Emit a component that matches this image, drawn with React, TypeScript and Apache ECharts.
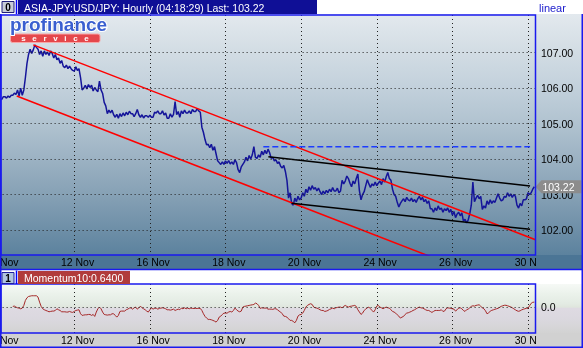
import React, { useEffect, useRef } from 'react';
import * as echarts from 'echarts';

// ---------- data ----------
const dateLabels = ['10 Nov', '12 Nov', '16 Nov', '18 Nov', '20 Nov', '24 Nov', '26 Nov', '30 Nov'];
const hoursPerLabel = 48;
const xMaxHour = 340.75;
const priceTicks = [102, 103, 104, 105, 106, 107];
const priceMin = 101.295;
const priceMax = 108.063;
const lastPrice = 103.22;
const momentumLast = 0.64;
const momentumStartHour = 9;

// hourly closes, hour 0 .. 340
const prices = [
  105.70, 105.70, 105.68, 105.76, 105.76, 105.72, 105.78, 105.74, 105.80, 105.80,
  105.86, 105.82, 105.95, 105.78, 106.00, 105.80, 105.95, 106.30, 106.70, 106.95,
  107.10, 106.98, 107.08, 107.22, 107.15, 107.10, 106.95, 107.05, 106.90, 107.05,
  106.95, 107.02, 106.92, 107.05, 106.98, 106.85, 106.95, 106.80, 106.85, 106.70,
  106.78, 106.62, 106.58, 106.65, 106.55, 106.62, 106.55, 106.50, 106.48, 106.60,
  106.50, 106.55, 106.30, 105.95, 106.00, 106.08, 105.98, 106.10, 106.02, 106.08,
  105.92, 106.02, 105.95, 105.90, 106.20, 105.95, 105.85, 105.60, 105.50, 105.28,
  105.38, 105.30, 105.38, 105.25, 105.18, 105.26, 105.15, 105.28, 105.20, 105.30,
  105.22, 105.32, 105.25, 105.35, 105.28, 105.28, 105.20, 105.28, 105.40, 105.25,
  105.18, 105.25, 105.16, 105.22, 105.22, 105.18, 105.24, 105.18, 105.18, 105.32,
  105.30, 105.36, 105.28, 105.28, 105.36, 105.24, 105.30, 105.15, 105.15, 105.28,
  105.18, 105.26, 105.62, 105.25, 105.34, 105.18, 105.36, 105.28, 105.38, 105.30,
  105.30, 105.36, 105.28, 105.40, 105.34, 105.34, 105.42, 105.36, 105.32, 104.90,
  104.75, 104.55, 104.40, 104.42, 104.32, 104.42, 104.25, 104.35, 104.15, 103.95,
  103.90, 103.85, 103.92, 103.85, 103.95, 103.88, 103.96, 103.86, 103.92, 103.85,
  103.98, 103.90, 103.70, 103.62, 103.78, 103.85, 103.92, 104.05, 103.95, 104.10,
  104.00, 104.12, 104.35, 104.05, 104.02, 104.12, 104.05, 104.22, 104.12, 104.25,
  104.15, 104.28, 104.18, 104.02, 104.05, 103.95, 103.98, 103.88, 103.92, 103.80,
  103.75, 103.82, 103.65, 103.40, 102.90, 103.05, 102.75, 102.70, 102.90, 102.80,
  102.95, 102.85, 102.90, 103.05, 102.95, 103.15, 103.05, 103.22, 103.12, 103.25,
  103.15, 103.20, 103.10, 103.18, 103.08, 103.00, 103.10, 103.02, 103.12, 103.05,
  103.15, 103.08, 103.20, 103.10, 103.10, 103.18, 103.05, 103.10, 103.40, 103.30,
  103.38, 103.52, 103.45, 103.32, 103.22, 103.38, 103.30, 103.45, 103.58, 103.10,
  102.85, 103.00, 103.08, 103.25, 103.42, 103.30, 103.20, 103.30, 103.25, 103.35,
  103.25, 103.32, 103.38, 103.28, 103.45, 103.35, 103.50, 103.62, 103.45, 103.40,
  103.15, 103.00, 102.95, 102.78, 102.65, 102.75, 102.82, 102.88, 102.80, 102.92,
  102.85, 102.82, 102.90, 102.80, 102.86, 102.78, 102.88, 102.95, 102.85, 102.92,
  102.80, 102.86, 102.75, 102.82, 102.60, 102.60, 102.50, 102.62, 102.55, 102.68,
  102.58, 102.62, 102.50, 102.60, 102.55, 102.62, 102.50, 102.58, 102.42, 102.52,
  102.35, 102.45, 102.50, 102.40, 102.48, 102.25, 102.30, 102.20, 102.28, 102.45,
  102.70, 103.35, 102.80, 102.90, 102.98, 102.88, 102.95, 102.58, 102.68, 102.62,
  102.82, 102.72, 102.85, 102.75, 102.82, 102.78, 102.90, 103.02, 102.90, 102.82,
  102.85, 102.95, 102.92, 103.05, 102.95, 103.02, 102.92, 103.00, 102.95, 102.70,
  102.62, 102.75, 102.68, 102.85, 102.85, 102.88, 103.05, 103.00, 103.05, 103.15, 103.22,
];

// Momentum(10), hour 9 .. 340
const momentum = [
  0.10, 0.14, 0.00, -0.10, -0.14, -0.24, -0.14, 0.24, 0.95, 1.33,
  1.52, 1.57, 1.62, 1.62, 1.62, 1.62, 1.43, 0.71, 0.10, -0.24,
  -0.38, -0.48, -0.57, -0.67, -0.62, -0.57, -0.57, -0.48, -0.24, -0.38,
  -0.48, -0.67, -0.67, -0.67, -0.71, -0.71, -0.62, -0.71, -0.76, -0.62,
  -0.48, -0.43, -0.38, -0.95, -1.19, -1.14, -1.10, -1.10, -1.05, -1.05,
  -1.19, -1.05, -1.33, -0.71, -0.24, 0.00, -0.24, -0.71, -1.05, -1.10,
  -1.14, -1.10, -1.10, -0.95, -0.95, -1.19, -1.43, -1.19, -0.62, -0.57,
  -0.57, -0.57, -0.38, -0.29, -0.14, -0.10, -0.29, -0.10, 0.00, -0.29,
  -0.10, 0.14, -0.10, -0.24, -0.38, -0.57, -0.71, -0.38, -0.10, -0.29,
  -0.19, -0.14, -0.29, -0.19, -0.14, -0.10, -0.14, -0.24, -0.38, -0.38,
  -0.43, -0.38, -0.29, -0.48, -0.38, -0.29, -0.38, -0.14, -0.24, -0.10,
  -0.24, -0.14, -0.24, -0.14, -0.19, -0.19, -0.19, -0.19, -0.19, -0.19,
  -0.48, -0.95, -1.33, -1.57, -1.76, -1.76, -1.81, -1.90, -2.00, -2.14,
  -1.90, -1.43, -1.29, -1.05, -0.86, -0.86, -0.86, -0.71, -0.62, -0.71,
  -0.48, -0.14, -0.38, -0.57, -0.67, -0.57, 0.00, 0.10, 0.14, 0.19,
  0.24, 0.29, 0.33, 0.38, 0.57, 0.48, 0.24, -0.19, -0.10, -0.14,
  -0.14, -0.14, -0.29, -0.29, -0.29, -0.33, -0.24, -0.24, -0.38, -0.57,
  -0.71, -0.95, -1.29, -1.33, -1.43, -1.67, -1.90, -1.90, -2.05, -2.24,
  -1.90, -1.29, -1.10, -1.05, -0.86, -0.48, 0.00, 0.24, 0.38, 0.48,
  0.38, 0.00, -0.10, -0.14, -0.24, -0.38, -0.48, -0.48, -0.62, -0.57,
  -0.48, -0.33, -0.24, -0.14, -0.24, -0.10, -0.05, 0.00, 0.00, -0.10,
  0.10, 0.24, 0.10, 0.00, 0.10, 0.14, 0.19, 0.24, 0.10, -0.38,
  -0.71, -1.05, -0.86, -0.48, -0.29, -0.10, 0.00, -0.24, -0.48, -0.71,
  -0.38, 0.14, 0.24, 0.00, -0.10, -0.24, -0.10, 0.00, -0.10, -0.14,
  -0.38, -0.62, -0.71, -0.86, -1.10, -1.29, -1.57, -1.43, -1.33, -1.05,
  -0.86, -0.81, -0.71, -0.62, -0.48, -0.38, -0.24, -0.10, 0.00, -0.10,
  -0.14, -0.24, -0.38, -0.48, -0.48, -0.62, -0.76, -0.62, -0.48, -0.48,
  -0.48, -0.48, -0.38, -0.62, -0.57, -0.24, -0.10, -0.14, -0.19, -0.24,
  -0.29, -0.57, -0.38, -0.14, -0.10, -0.24, -0.48, -0.62, -0.38, -0.29,
  -0.10, 0.10, 0.19, 0.14, 0.24, 0.29, 0.33, 0.11, -0.10, -0.24,
  -0.53, -0.96, -0.81, -0.60, -0.46, -0.39, -0.31, -0.24, -0.17, -0.03,
  0.11, 0.19, 0.26, 0.26, 0.19, 0.11, 0.04, -0.10, -0.24, -0.39,
  -0.53, -0.60, -0.53, -0.39, -0.31, -0.24, -0.17, -0.17, 0.19, 0.54,
  0.69, 0.71,
];

// trend channels: [hour, price]
const upperRed = [[22, 107.22], [340.75, 101.725]];
const lowerRed = [[11.5, 105.78], [340.75, 100.1]];
const upperBlack = [[171.2, 104.067], [337.3, 103.24]];
const lowerBlack = [[186, 102.753], [337.3, 102.02]];
const resistance = [[168, 104.35], [337.3, 104.35]];

// ---------- styles ----------
const FONT = '"Liberation Sans", Arial, sans-serif';
const BLUE = '#1a1aee';
const mainBand = '#4b7595';
const momBand = '#d1d1d1';

const fmtDate = (v: number) => {
  const k = Math.round(v / hoursPerLabel);
  return Math.abs(v - k * hoursPerLabel) < 1e-6 && k < dateLabels.length ? dateLabels[k] : '';
};
const fmtPrice = (v: number) => (priceTicks.some((t) => Math.abs(t - v) < 1e-6) ? v.toFixed(2) : '');

function buildOption() {
  const mainGrad = new echarts.graphic.LinearGradient(0, 0, 0, 1, [
    { offset: 0, color: '#e3e9ee' },
    { offset: 0.15, color: '#d3dde4' },
    { offset: 0.3, color: '#c3d1dc' },
    { offset: 0.45, color: '#b1c3d0' },
    { offset: 0.6, color: '#9cb2c3' },
    { offset: 0.75, color: '#86a1b5' },
    { offset: 0.9, color: '#6d8ea7' },
    { offset: 1, color: '#5c829e' },
  ]);
  const momGrad = new echarts.graphic.LinearGradient(0, 0, 0, 1, [
    { offset: 0, color: '#f6f9f6' },
    { offset: 0.2, color: '#ebf2eb' },
    { offset: 0.4, color: '#e3ebe3' },
    { offset: 0.47, color: '#dfe6dd' },
    { offset: 0.5, color: '#dedae2' },
    { offset: 0.7, color: '#dbd8df' },
    { offset: 0.85, color: '#d7d6d9' },
    { offset: 1, color: '#d2d2d2' },
  ]);

  const xAxisBase = (gridIndex: number) => ({
    type: 'value',
    gridIndex,
    min: 0,
    max: xMaxHour,
    interval: hoursPerLabel,
    axisLine: { show: false },
    axisTick: { show: false },
    splitLine: { show: true, lineStyle: { color: '#222', type: [1, 3], width: 1 } },
    axisLabel: {
      color: '#000',
      fontSize: 10.5,
      fontFamily: FONT,
      margin: 1,
      padding: [0, 0, 0, 6.6],
      formatter: fmtDate,
    },
  });

  const lineSeries = (data: number[][], color: string, extra: any = {}) => ({
    type: 'line',
    xAxisIndex: 0,
    yAxisIndex: 0,
    data,
    showSymbol: false,
    symbol: 'none',
    silent: true,
    z: 4,
    lineStyle: { color, width: 1.5, ...(extra.lineStyle || {}) },
    emphasis: { disabled: true },
  });

  const graphics: any[] = [
    // backgrounds
    { type: 'rect', z: -10, silent: true, shape: { x: 0, y: 14, width: 583, height: 241 }, style: { fill: mainGrad } },
    { type: 'rect', z: -10, silent: true, shape: { x: 0, y: 255, width: 583, height: 15 }, style: { fill: mainBand } },
    { type: 'rect', z: -10, silent: true, shape: { x: 0, y: 284, width: 583, height: 49 }, style: { fill: momGrad } },
    { type: 'rect', z: -10, silent: true, shape: { x: 0, y: 333, width: 583, height: 15 }, style: { fill: momBand } },
    // covers clipping the last date label at the plot edge
    { type: 'rect', z: 100, silent: true, shape: { x: 536.3, y: 256, width: 45.5, height: 13 }, style: { fill: mainBand } },
    { type: 'rect', z: 100, silent: true, shape: { x: 536.3, y: 334, width: 45.5, height: 12.5 }, style: { fill: momBand } },
    // plot borders
    { type: 'rect', z: 100, silent: true, shape: { x: 1, y: 15, width: 534.5, height: 240 }, style: { fill: 'none', stroke: BLUE, lineWidth: 1.5 } },
    { type: 'rect', z: 100, silent: true, shape: { x: 1, y: 284, width: 534.5, height: 49 }, style: { fill: 'none', stroke: BLUE, lineWidth: 1.5 } },
    // outer frames
    { type: 'polyline', z: 100, silent: true, shape: { points: [[0.75, 14], [0.75, 269.5], [582.25, 269.5], [582.25, 14]] }, style: { fill: 'none', stroke: BLUE, lineWidth: 1.5 } },
    { type: 'polyline', z: 100, silent: true, shape: { points: [[0.75, 270], [0.75, 347.25], [582.25, 347.25], [582.25, 270]] }, style: { fill: 'none', stroke: BLUE, lineWidth: 1.5 } },
    // title bar
    { type: 'rect', z: 100, silent: true, shape: { x: 2, y: 1.5, width: 12, height: 11 }, style: { fill: '#c8cdd8', stroke: '#20207a', lineWidth: 1 } },
    { type: 'text', z: 101, silent: true, x: 8, y: 7.5, style: { text: '0', fill: '#000', fontSize: 10, fontWeight: 'bold', fontFamily: FONT, align: 'center', verticalAlign: 'middle' } },
    { type: 'line', z: 100, silent: true, shape: { x1: 16.5, y1: 0, x2: 16.5, y2: 14 }, style: { stroke: '#0000ff', lineWidth: 1.5 } },
    { type: 'rect', z: 100, silent: true, shape: { x: 18, y: 0, width: 299, height: 14 }, style: { fill: '#0f0f96' } },
    { type: 'text', z: 101, silent: true, x: 24, y: 7.5, style: { text: `ASIA-JPY:USD/JPY: Hourly (04:18:29) Last: ${lastPrice.toFixed(2)}`, fill: '#fff', fontSize: 10.5, fontFamily: FONT, verticalAlign: 'middle' } },
    { type: 'text', z: 101, silent: true, x: 539, y: 7.5, style: { text: 'linear', fill: '#1a1acc', fontSize: 11, fontFamily: FONT, verticalAlign: 'middle' } },
    // momentum header
    { type: 'rect', z: 100, silent: true, shape: { x: 2, y: 272.5, width: 12, height: 11 }, style: { fill: '#b0c4e0', stroke: '#2020a0', lineWidth: 1 } },
    { type: 'text', z: 101, silent: true, x: 8, y: 278.5, style: { text: '1', fill: '#000', fontSize: 10, fontWeight: 'bold', fontFamily: FONT, align: 'center', verticalAlign: 'middle' } },
    { type: 'line', z: 100, silent: true, shape: { x1: 16.5, y1: 270.5, x2: 16.5, y2: 284 }, style: { stroke: '#0000ff', lineWidth: 1.5 } },
    { type: 'rect', z: 100, silent: true, shape: { x: 18, y: 271, width: 112, height: 13 }, style: { fill: '#b13b3b' } },
    { type: 'text', z: 101, silent: true, x: 24, y: 277.8, style: { text: `Momentum10:${momentumLast.toFixed(4)}`, fill: '#fff', fontSize: 10.5, fontFamily: FONT, verticalAlign: 'middle' } },
    // logo
    { type: 'text', z: 101, silent: true, x: 10, y: 14.5, style: { text: 'profinance', fill: '#3a5fd0', stroke: '#ffffff', lineWidth: 2, fontSize: 19, lineHeight: 19, fontWeight: 'bold', fontFamily: FONT, verticalAlign: 'top' } },
    { type: 'rect', z: 100, silent: true, shape: { x: 10.5, y: 34, width: 89.5, height: 8.5, r: 2 }, style: { fill: '#e5474b', stroke: '#f7a7a7', lineWidth: 1 } },
    { type: 'text', z: 101, silent: true, x: 55, y: 38.5, style: { text: 's   e   r   v   i   c   e', fill: '#fff', fontSize: 8, lineHeight: 8, fontWeight: 'bold', fontFamily: FONT, align: 'center', verticalAlign: 'middle' } },
  ];

  return {
    animation: false,
    textStyle: { fontFamily: FONT },
    grid: [
      { left: -1.38, right: 47.5, top: 15, bottom: 93, containLabel: false, outerBoundsMode: 'none' },
      { left: -1.38, right: 47.5, top: 284, bottom: 15, containLabel: false, outerBoundsMode: 'none' },
    ],
    xAxis: [xAxisBase(0), xAxisBase(1)],
    yAxis: [
      {
        type: 'value', gridIndex: 0, position: 'right', min: priceMin, max: priceMax,
        axisLine: { show: false }, axisTick: { show: false }, splitLine: { show: false },
        axisLabel: { color: '#000', fontSize: 10.5, fontFamily: FONT, margin: 5.5, formatter: fmtPrice },
      },
      {
        type: 'value', gridIndex: 1, position: 'right', min: -3.7, max: 3.3,
        axisLine: { show: false }, axisTick: { show: false }, splitLine: { show: false },
        axisLabel: { color: '#000', fontSize: 10.5, fontFamily: FONT, margin: 5.5, formatter: (v: number) => (Math.abs(v) < 1e-9 ? '0.0' : '') },
      },
    ],
    series: [
      {
        type: 'line', xAxisIndex: 0, yAxisIndex: 0, data: [], silent: true, z: 1,
        markLine: {
          silent: true, symbol: 'none', animation: false, label: { show: false },
          lineStyle: { color: '#222', type: [1, 3], width: 1 },
          data: priceTicks.map((t) => ({ yAxis: t })),
        },
      },
      {
        type: 'line', xAxisIndex: 0, yAxisIndex: 0,
        data: prices.map((v, i) => [i, v]),
        showSymbol: false, symbol: 'none', silent: true, z: 3,
        lineStyle: { color: '#15159a', width: 1.5 },
        emphasis: { disabled: true },
        markPoint: {
          silent: true, animation: false,
          symbol: 'path://M0,6.5 L6,0 L46,0 L46,13 L6,13 Z',
          symbolSize: [46, 13],
          symbolOffset: ['50%', 0],
          symbolKeepAspect: false,
          itemStyle: { color: '#8c8c8c' },
          label: { show: true, position: 'inside', color: '#fff', fontSize: 10.5, fontFamily: FONT, offset: [0, 0], formatter: () => lastPrice.toFixed(2) },
          data: [{ coord: [xMaxHour, lastPrice], value: lastPrice }],
        },
      },
      lineSeries(upperRed, '#ff0000'),
      lineSeries(lowerRed, '#ff0000'),
      lineSeries(upperBlack, '#000000'),
      lineSeries(lowerBlack, '#000000'),
      lineSeries(resistance, '#1c3cff', { lineStyle: { type: [6, 3] } }),
      {
        type: 'line', xAxisIndex: 1, yAxisIndex: 1,
        data: momentum.map((v, i) => [momentumStartHour + i, v]),
        showSymbol: false, symbol: 'none', silent: true, z: 3,
        lineStyle: { color: '#a52828', width: 1 },
        emphasis: { disabled: true },
        markLine: {
          silent: true, symbol: 'none', animation: false, label: { show: false },
          lineStyle: { color: '#222', type: [1, 3], width: 1 },
          data: [{ yAxis: 0 }],
        },
      },
    ],
    graphic: { elements: graphics },
  };
}

export default function App() {
  const ref = useRef<HTMLDivElement>(null);
  useEffect(() => {
    if (!ref.current) return;
    const chart = echarts.init(ref.current, undefined, { renderer: 'svg' });
    chart.setOption(buildOption() as any);
    return () => chart.dispose();
  }, []);
  return <div ref={ref} style={{ position: 'fixed', left: 0, top: 0, width: 583, height: 348 }} />;
}
